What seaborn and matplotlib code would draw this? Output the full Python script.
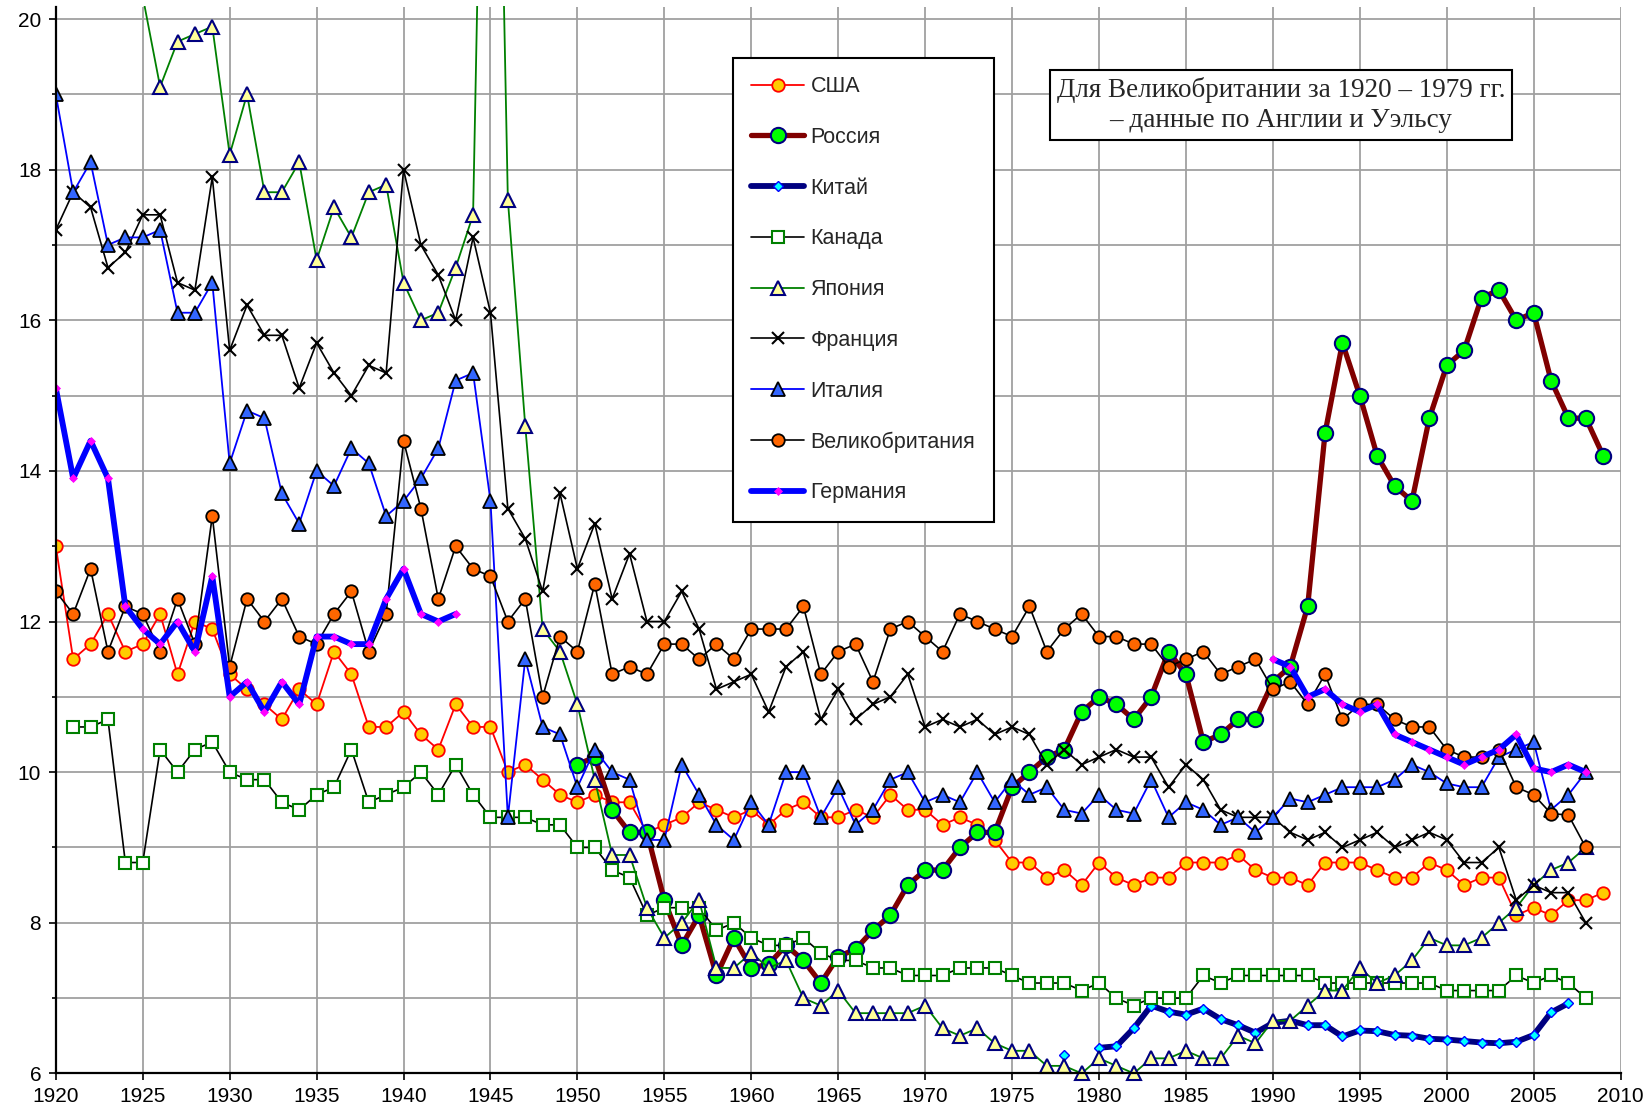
import numpy as np
import pandas as pd
import matplotlib
matplotlib.use("Agg")
import matplotlib.pyplot as plt
from matplotlib.lines import Line2D
from matplotlib.patches import Rectangle
from matplotlib.ticker import MultipleLocator
import seaborn as sns

# crude death rate per 1000
# each country is a list of (first year, values) chunks; gaps between chunks are not joined
usa_1920 = [13.0, 11.5, 11.7, 12.1, 11.6, 11.7, 12.1, 11.3, 12.0, 11.9,
            11.3, 11.1, 10.9, 10.7, 11.1, 10.9, 11.6, 11.3, 10.6, 10.6,
            10.8, 10.5, 10.3, 10.9, 10.6, 10.6, 10.0, 10.1, 9.9, 9.7,
            9.6, 9.7, 9.6, 9.6, 9.2, 9.3, 9.4, 9.6, 9.5, 9.4,
            9.5, 9.3, 9.5, 9.6, 9.4, 9.4, 9.5, 9.4, 9.7, 9.5,
            9.5, 9.3, 9.4, 9.3, 9.1, 8.8, 8.8, 8.6, 8.7, 8.5,
            8.8, 8.6, 8.5, 8.6, 8.6, 8.8, 8.8, 8.8, 8.9, 8.7,
            8.6, 8.6, 8.5, 8.8, 8.8, 8.8, 8.7, 8.6, 8.6, 8.8,
            8.7, 8.5, 8.6, 8.6, 8.1, 8.2, 8.1, 8.3, 8.3, 8.4]

russia_1950 = [10.1, 10.2, 9.5, 9.2, 9.2, 8.3, 7.7, 8.1, 7.3, 7.8,
               7.4, 7.45, 7.7, 7.5, 7.2, 7.55, 7.65, 7.9, 8.1, 8.5,
               8.7, 8.7, 9.0, 9.2, 9.2, 9.8, 10.0, 10.2, 10.3, 10.8,
               11.0, 10.9, 10.7, 11.0, 11.6, 11.3, 10.4, 10.5, 10.7, 10.7,
               11.2, 11.4, 12.2, 14.5, 15.7, 15.0, 14.2, 13.8, 13.6, 14.7,
               15.4, 15.6, 16.3, 16.4, 16.0, 16.1, 15.2, 14.7, 14.7, 14.2]

china_1978 = [6.25]
china_1980 = [6.34, 6.36, 6.6, 6.9, 6.82, 6.78, 6.86, 6.72, 6.64, 6.54,
              6.67, 6.7, 6.64, 6.64, 6.49, 6.57, 6.56, 6.51, 6.5, 6.46,
              6.45, 6.43, 6.41, 6.4, 6.42, 6.51, 6.81, 6.93]

canada_1921 = [10.6, 10.6, 10.7, 8.8, 8.8, 10.3, 10.0, 10.3, 10.4,
               10.0, 9.9, 9.9, 9.6, 9.5, 9.7, 9.8, 10.3, 9.6, 9.7,
               9.8, 10.0, 9.7, 10.1, 9.7, 9.4, 9.4, 9.4, 9.3, 9.3,
               9.0, 9.0, 8.7, 8.6, 8.1, 8.2, 8.2, 8.2, 7.9, 8.0,
               7.8, 7.7, 7.7, 7.8, 7.6, 7.5, 7.5, 7.4, 7.4, 7.3,
               7.3, 7.3, 7.4, 7.4, 7.4, 7.3, 7.2, 7.2, 7.2, 7.1,
               7.2, 7.0, 6.9, 7.0, 7.0, 7.0, 7.3, 7.2, 7.3, 7.3,
               7.3, 7.3, 7.3, 7.2, 7.2, 7.2, 7.2, 7.2, 7.2, 7.2,
               7.1, 7.1, 7.1, 7.1, 7.3, 7.2, 7.3, 7.2, 7.0]

japan_1920 = [25.4, 22.7, 22.4, 22.9, 21.3, 20.3, 19.1, 19.7, 19.8, 19.9,
              18.2, 19.0, 17.7, 17.7, 18.1, 16.8, 17.5, 17.1, 17.7, 17.8,
              16.5, 16.0, 16.1, 16.7, 17.4, 29.2, 17.6, 14.6, 11.9, 11.6,
              10.9, 9.9, 8.9, 8.9, 8.2, 7.8, 8.0, 8.3, 7.4, 7.4,
              7.6, 7.4, 7.5, 7.0, 6.9, 7.1, 6.8, 6.8, 6.8, 6.8,
              6.9, 6.6, 6.5, 6.6, 6.4, 6.3, 6.3, 6.1, 6.1, 6.0,
              6.2, 6.1, 6.0, 6.2, 6.2, 6.3, 6.2, 6.2, 6.5, 6.4,
              6.7, 6.7, 6.9, 7.1, 7.1, 7.4, 7.2, 7.3, 7.5, 7.8,
              7.7, 7.7, 7.8, 8.0, 8.2, 8.5, 8.7, 8.8, 9.0]

france_1920 = [17.2, 17.7, 17.5, 16.7, 16.9, 17.4, 17.4, 16.5, 16.4, 17.9,
               15.6, 16.2, 15.8, 15.8, 15.1, 15.7, 15.3, 15.0, 15.4, 15.3,
               18.0, 17.0, 16.6, 16.0, 17.1, 16.1, 13.5, 13.1, 12.4, 13.7,
               12.7, 13.3, 12.3, 12.9, 12.0, 12.0, 12.4, 11.9, 11.1, 11.2,
               11.3, 10.8, 11.4, 11.6, 10.7, 11.1, 10.7, 10.9, 11.0, 11.3,
               10.6, 10.7, 10.6, 10.7, 10.5, 10.6, 10.5, 10.1, 10.3, 10.1,
               10.2, 10.3, 10.2, 10.2, 9.8, 10.1, 9.9, 9.5, 9.4, 9.4,
               9.4, 9.2, 9.1, 9.2, 9.0, 9.1, 9.2, 9.0, 9.1, 9.2,
               9.1, 8.8, 8.8, 9.0, 8.3, 8.5, 8.4, 8.4, 8.0]

italy_1920 = [19.0, 17.7, 18.1, 17.0, 17.1, 17.1, 17.2, 16.1, 16.1, 16.5,
              14.1, 14.8, 14.7, 13.7, 13.3, 14.0, 13.8, 14.3, 14.1, 13.4,
              13.6, 13.9, 14.3, 15.2, 15.3, 13.6, 9.4, 11.5, 10.6, 10.5,
              9.8, 10.3, 10.0, 9.9, 9.1, 9.1, 10.1, 9.7, 9.3, 9.1,
              9.6, 9.3, 10.0, 10.0, 9.4, 9.8, 9.3, 9.5, 9.9, 10.0,
              9.6, 9.7, 9.6, 10.0, 9.6, 9.9, 9.7, 9.8, 9.5, 9.45,
              9.7, 9.5, 9.45, 9.9, 9.4, 9.6, 9.5, 9.3, 9.4, 9.2,
              9.4, 9.65, 9.6, 9.7, 9.8, 9.8, 9.8, 9.9, 10.1, 10.0,
              9.85, 9.8, 9.8, 10.2, 10.3, 10.4, 9.5, 9.7, 10.0]

uk_1920 = [12.4, 12.1, 12.7, 11.6, 12.2, 12.1, 11.6, 12.3, 11.7, 13.4,
           11.4, 12.3, 12.0, 12.3, 11.8, 11.7, 12.1, 12.4, 11.6, 12.1,
           14.4, 13.5, 12.3, 13.0, 12.7, 12.6, 12.0, 12.3, 11.0, 11.8,
           11.6, 12.5, 11.3, 11.4, 11.3, 11.7, 11.7, 11.5, 11.7, 11.5,
           11.9, 11.9, 11.9, 12.2, 11.3, 11.6, 11.7, 11.2, 11.9, 12.0,
           11.8, 11.6, 12.1, 12.0, 11.9, 11.8, 12.2, 11.6, 11.9, 12.1,
           11.8, 11.8, 11.7, 11.7, 11.4, 11.5, 11.6, 11.3, 11.4, 11.5,
           11.1, 11.2, 10.9, 11.3, 10.7, 10.9, 10.9, 10.7, 10.6, 10.6,
           10.3, 10.2, 10.2, 10.3, 9.8, 9.7, 9.45, 9.43, 9.0]

germany_1920 = [15.1, 13.9, 14.4, 13.9, 12.2, 11.9, 11.7, 12.0, 11.6, 12.6,
                11.0, 11.2, 10.8, 11.2, 10.9, 11.8, 11.8, 11.7, 11.7, 12.3,
                12.7, 12.1, 12.0, 12.1]
germany_1990 = [11.5, 11.4, 11.0, 11.1, 10.9, 10.8, 10.9, 10.5, 10.4, 10.3,
                10.2, 10.1, 10.2, 10.3, 10.5, 10.05, 10.0, 10.1, 10.0]

countries = ["США", "Россия", "Китай", "Канада", "Япония",
             "Франция", "Италия", "Великобритания", "Германия"]
chunks = {
    "США": [(1920, usa_1920)],
    "Россия": [(1950, russia_1950)],
    "Китай": [(1978, china_1978), (1980, china_1980)],
    "Канада": [(1921, canada_1921)],
    "Япония": [(1920, japan_1920)],
    "Франция": [(1920, france_1920)],
    "Италия": [(1920, italy_1920)],
    "Великобритания": [(1920, uk_1920)],
    "Германия": [(1920, germany_1920), (1990, germany_1990)],
}

styles = {
    "США": dict(color="#FF0000", linewidth=1.3, marker="o", markersize=9,
                markerfacecolor="#FFCC00", markeredgecolor="#FF0000", markeredgewidth=1.3),
    "Россия": dict(color="#800000", linewidth=3.8, marker="o", markersize=11,
                   markerfacecolor="#00FF00", markeredgecolor="#000080", markeredgewidth=1.5),
    "Китай": dict(color="#000080", linewidth=4.2, marker="D", markersize=5.5,
                  markerfacecolor="#00FFFF", markeredgecolor="#0000FF", markeredgewidth=1.0),
    "Канада": dict(color="black", linewidth=1.2, marker="s", markersize=8.5,
                   markerfacecolor="white", markeredgecolor="#008000", markeredgewidth=1.5),
    "Япония": dict(color="#008000", linewidth=1.3, marker="^", markersize=9.5,
                   markerfacecolor="#FFFF99", markeredgecolor="#000080", markeredgewidth=1.5),
    "Франция": dict(color="black", linewidth=1.2, marker="x", markersize=9,
                    markerfacecolor="black", markeredgecolor="black", markeredgewidth=1.5),
    "Италия": dict(color="#0000FF", linewidth=1.3, marker="^", markersize=10,
                   markerfacecolor="#3366FF", markeredgecolor="black", markeredgewidth=1.3),
    "Великобритания": dict(color="black", linewidth=1.2, marker="o", markersize=9,
                           markerfacecolor="#FF6600", markeredgecolor="black", markeredgewidth=1.3),
    "Германия": dict(color="#0000FF", linewidth=4.2, marker="D", markersize=4.5,
                     markerfacecolor="#FF00FF", markeredgecolor="#FF00FF", markeredgewidth=0.5),
}

# long table, one segment id per unbroken chunk
rows = []
for name in countries:
    for seg, (start, vals) in enumerate(chunks[name]):
        for i, v in enumerate(vals):
            rows.append((name, seg, start + i, v))
data = pd.DataFrame(rows, columns=["country", "seg", "year", "rate"])

sns.set_theme(style="white")
plt.rcParams["font.family"] = ["Liberation Sans", "DejaVu Sans"]

fig = plt.figure(figsize=(16.5, 11.12), dpi=100)
ax = fig.add_axes([55.8 / 1650, 38.6 / 1112, (1620.6 - 55.8) / 1650, (1073.4 - 6.5) / 1112])

for z, name in enumerate(countries):
    sub = data[data["country"] == name]
    sns.lineplot(data=sub, x="year", y="rate", units="seg", estimator=None,
                 ax=ax, legend=False, zorder=3 + z, **styles[name])

# let markers sitting on the x axis show whole, but still cut at the top
clip = Rectangle((0, -0.03), 1, 1.03, transform=ax.transAxes, visible=False)
for line in ax.lines:
    line.set_clip_path(clip)

ax.set_xlim(1920, 2010)
ax.set_ylim(6, 20.166)
ax.xaxis.set_major_locator(MultipleLocator(5))
ax.yaxis.set_major_locator(MultipleLocator(2))
ax.yaxis.set_minor_locator(MultipleLocator(1))
ax.set_xlabel("")
ax.set_ylabel("")

ax.grid(True, which="both", axis="y", color="#a0a0a0", linewidth=1.3)
ax.grid(True, which="major", axis="x", color="#a0a0a0", linewidth=1.3)
ax.set_axisbelow(True)

for side in ["top", "right"]:
    ax.spines[side].set_visible(False)
for side in ["left", "bottom"]:
    ax.spines[side].set_color("black")
    ax.spines[side].set_linewidth(1.6)
    ax.spines[side].set_zorder(20)

ax.tick_params(axis="both", which="major", direction="out", length=5, width=1.2,
               color="black", labelsize=15, labelcolor="black")
ax.tick_params(axis="y", which="minor", direction="out", length=3, width=1.2, color="black", left=True)
ax.tick_params(axis="x", which="major", pad=5, bottom=True)
ax.tick_params(axis="y", which="major", pad=5.5, left=True)

handles = [Line2D([], [], **styles[name]) for name in countries]
leg = fig.legend(handles, countries, loc="upper left",
                 bbox_to_anchor=(733 / 1650, 1 - 58 / 1112), bbox_transform=fig.transFigure,
                 fontsize=15.5, frameon=True, fancybox=False, borderaxespad=0,
                 handlelength=2.45, handletextpad=0.3, borderpad=0.85, labelspacing=1.38)
leg.get_frame().set_edgecolor("black")
leg.get_frame().set_linewidth(1.5)
leg.get_frame().set_facecolor("white")
leg.get_frame().set_alpha(1)

fig.text(1281 / 1650, 1 - 105 / 1112,
         "Для Великобритании за 1920 – 1979 гг.\n– данные по Англии и Уэльсу",
         ha="center", va="center", multialignment="center",
         family=["Liberation Serif", "DejaVu Serif"], fontsize=19.5, linespacing=1.28,
         bbox=dict(boxstyle="square,pad=0.25", facecolor="white", edgecolor="black", linewidth=1.5))

fig.savefig("out.png", dpi=100)
